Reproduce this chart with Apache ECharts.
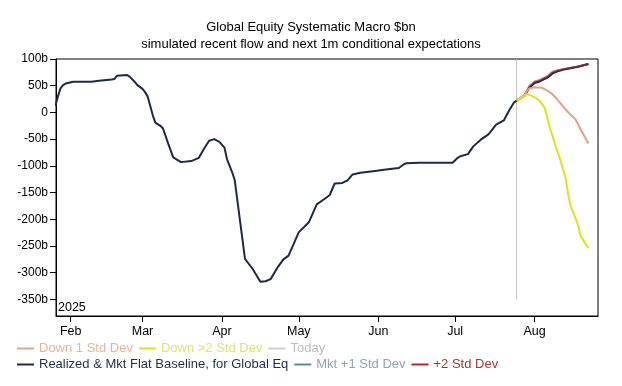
<!DOCTYPE html>
<html><head><meta charset="utf-8">
<script src="https://cdn.jsdelivr.net/npm/echarts@6/dist/echarts.min.js"></script>
<style>html,body{margin:0;padding:0;background:#fff}#c{width:622px;height:386px}</style>
</head><body><div id="c"></div>
<script>
// ---- data ----
const baseDates = ['2025-01-26','2025-01-27','2025-01-28','2025-01-29','2025-01-30','2025-02-02','2025-02-09','2025-02-12','2025-02-17','2025-02-18','2025-02-19','2025-02-23','2025-02-24','2025-02-26','2025-02-27','2025-03-01','2025-03-02','2025-03-03','2025-03-05','2025-03-06','2025-03-08','2025-03-09','2025-03-11','2025-03-13','2025-03-16','2025-03-20','2025-03-23','2025-03-25','2025-03-27','2025-03-29','2025-03-31','2025-04-02','2025-04-03','2025-04-05','2025-04-06','2025-04-10','2025-04-13','2025-04-16','2025-04-18','2025-04-20','2025-04-23','2025-04-25','2025-04-27','2025-05-01','2025-05-03','2025-05-05','2025-05-08','2025-05-11','2025-05-13','2025-05-15','2025-05-18','2025-05-20','2025-05-22','2025-05-25','2025-05-30','2025-06-04','2025-06-09','2025-06-11','2025-06-12','2025-06-17','2025-06-30','2025-07-02','2025-07-03','2025-07-06','2025-07-08','2025-07-11','2025-07-14','2025-07-17','2025-07-20','2025-07-22','2025-07-24','2025-07-25','2025-07-28','2025-07-30','2025-08-01','2025-08-03','2025-08-06','2025-08-08','2025-08-10','2025-08-13','2025-08-18','2025-08-22'];
const baseValues = [12,30,45,51,54,57.5,57.5,59.5,61.5,62.5,68.5,70,67,57,51,44,38,30,-5,-19,-25,-30,-58,-84,-93,-91,-85,-68,-53,-50,-55,-66,-88,-112,-127,-274,-293,-317,-316,-312,-288,-275,-268,-224,-215,-205,-172,-162,-155,-133,-132,-127,-116,-113,-110,-107,-104,-97,-95,-94,-94,-85,-82,-78,-64,-51,-41,-23,-15,3,19,22,31,46,55,58,65,73,77,81,85.5,90.5];

const down1Dates = ['2025-07-25','2025-07-28','2025-07-29','2025-07-30','2025-08-01','2025-08-04','2025-08-06','2025-08-08','2025-08-11','2025-08-13','2025-08-15','2025-08-17','2025-08-19','2025-08-22'];
const down1Values = [22,31,40,45,47,46,41,34,18,6,-4,-13,-32,-58];

const down2Dates = ['2025-07-25','2025-07-28','2025-07-29','2025-07-31','2025-08-03','2025-08-05','2025-08-07','2025-08-08','2025-08-09','2025-08-11','2025-08-12','2025-08-13','2025-08-14','2025-08-15','2025-08-17','2025-08-18','2025-08-19','2025-08-22'];
const down2Values = [22,31,34,31,22,8,-30,-44,-60,-88,-105,-120,-150,-175,-198,-212,-232,-254];

const up1Dates = ['2025-07-25','2025-07-28','2025-07-30','2025-08-01','2025-08-03','2025-08-06','2025-08-08','2025-08-10','2025-08-13','2025-08-18','2025-08-22'];
const up1Values = [22,31.5,47,56,59,66,74,78,81.5,86,90.5];

const up2Dates = ['2025-07-25','2025-07-28','2025-07-30','2025-08-01','2025-08-03','2025-08-06','2025-08-08','2025-08-10','2025-08-13','2025-08-18','2025-08-22'];
const up2Values = [22,32,50,58,61,68,76,79,82,86,90.5];

const todayDate = '2025-07-25';
const todayRange = [-350, 100];

const monthTickDates = ['2025-02-01','2025-03-01','2025-04-01','2025-05-01','2025-06-01','2025-07-01','2025-08-01'];
const monthTickLabels = ['Feb','Mar','Apr','May','Jun','Jul','Aug'];
const yTickValues = [-350,-300,-250,-200,-150,-100,-50,0,50,100];

// ---- helpers ----
function ts(s){const p=s.split('-');return Date.UTC(+p[0],+p[1]-1,+p[2]);}
function pairs(d,v){return d.map((s,i)=>[ts(s),v[i]]);}
const FONT = '"Liberation Sans", Arial, sans-serif';
const monthTicks = monthTickDates.map(ts);

const C = {
  base:'#1e2a44', down1:'#e0a482', down2:'#e2e21c', today:'#c4c4c4', up1:'#5a8e94', up2:'#b22a2e'
};

const chart = echarts.init(document.getElementById('c'), null, {renderer:'canvas'});
const legendCommon = {left:17, itemWidth:17, itemHeight:2, itemGap:6, padding:0, icon:'rect',
  textStyle:{fontSize:13, fontFamily:FONT}};
const option = {
  animation:false,
  backgroundColor:'#fff',
  textStyle:{fontFamily:FONT},
  title:[
    {text:'Global Equity Systematic Macro $bn', left:'center', top:16,
     textStyle:{fontSize:13, fontWeight:'normal', color:'#000', fontFamily:FONT}},
    {text:'simulated recent flow and next 1m conditional expectations', left:'center', top:33,
     textStyle:{fontSize:13, fontWeight:'normal', color:'#000', fontFamily:FONT}}
  ],
  grid:{left:56, right:24, top:59, bottom:70, show:true, borderColor:'#000', borderWidth:1, containLabel:false},
  xAxis:{
    type:'value',
    min:Date.UTC(2025,0,26,6), max:Date.UTC(2025,7,25,18),
    axisLine:{show:true, onZero:false, lineStyle:{color:'#000', width:1}},
    axisTick:{show:true, customValues:monthTicks, length:6, lineStyle:{color:'#000'}},
    axisLabel:{customValues:monthTicks, color:'#000', fontSize:12.5, margin:9, fontFamily:FONT,
      formatter:function(v){const i=monthTicks.indexOf(v);return i>=0?monthTickLabels[i]:'';}},
    splitLine:{show:false}
  },
  yAxis:{
    type:'value', min:-381, max:100,
    axisLine:{show:true, onZero:false, lineStyle:{color:'#000', width:1}},
    axisTick:{show:true, customValues:yTickValues, length:6, lineStyle:{color:'#000'}},
    axisLabel:{customValues:yTickValues, color:'#000', fontSize:12, margin:8, fontFamily:FONT,
      formatter:function(v){return v===0?'0':v+'b';}},
    splitLine:{show:false}
  },
  legend:[
    Object.assign({}, legendCommon, {top:342,
     data:[
       {name:'Down 1 Std Dev', textStyle:{color:'#e6b597'}},
       {name:'Down >2 Std Dev', textStyle:{color:'#e6e070'}},
       {name:'Today', textStyle:{color:'#bdbdbd'}, itemStyle:{color:'#cfcfcf'}}
     ]}),
    Object.assign({}, legendCommon, {top:358,
     data:[
       {name:'Realized & Mkt Flat Baseline, for Global Eq', textStyle:{color:'#1f2e4f'}},
       {name:'Mkt +1 Std Dev', textStyle:{color:'#8aa6b8'}},
       {name:'+2 Std Dev', textStyle:{color:'#a8353a'}}
     ]})
  ],
  graphic:[
    {type:'text', left:58, top:301, style:{text:'2025', font:'12.5px "Liberation Sans", Arial, sans-serif', fill:'#000'}}
  ],
  series:[
    {name:'Today', type:'line', symbol:'none', data:[[ts(todayDate),todayRange[0]],[ts(todayDate),todayRange[1]]],
     lineStyle:{color:C.today, width:1}, itemStyle:{color:C.today}, z:1},
    {name:'Mkt +1 Std Dev', type:'line', symbol:'none', data:pairs(up1Dates,up1Values),
     lineStyle:{color:C.up1, width:2}, itemStyle:{color:C.up1}, z:2},
    {name:'Realized & Mkt Flat Baseline, for Global Eq', type:'line', symbol:'none', data:pairs(baseDates,baseValues),
     lineStyle:{color:C.base, width:2}, itemStyle:{color:C.base}, z:3},
    {name:'+2 Std Dev', type:'line', symbol:'none', data:pairs(up2Dates,up2Values),
     lineStyle:{color:C.up2, width:2, opacity:0.6}, itemStyle:{color:C.up2}, z:4},
    {name:'Down 1 Std Dev', type:'line', symbol:'none', data:pairs(down1Dates,down1Values),
     lineStyle:{color:C.down1, width:2}, itemStyle:{color:C.down1}, z:4},
    {name:'Down >2 Std Dev', type:'line', symbol:'none', data:pairs(down2Dates,down2Values),
     lineStyle:{color:C.down2, width:2}, itemStyle:{color:C.down2}, z:4}
  ]
};
chart.setOption(option);
</script></body></html>
